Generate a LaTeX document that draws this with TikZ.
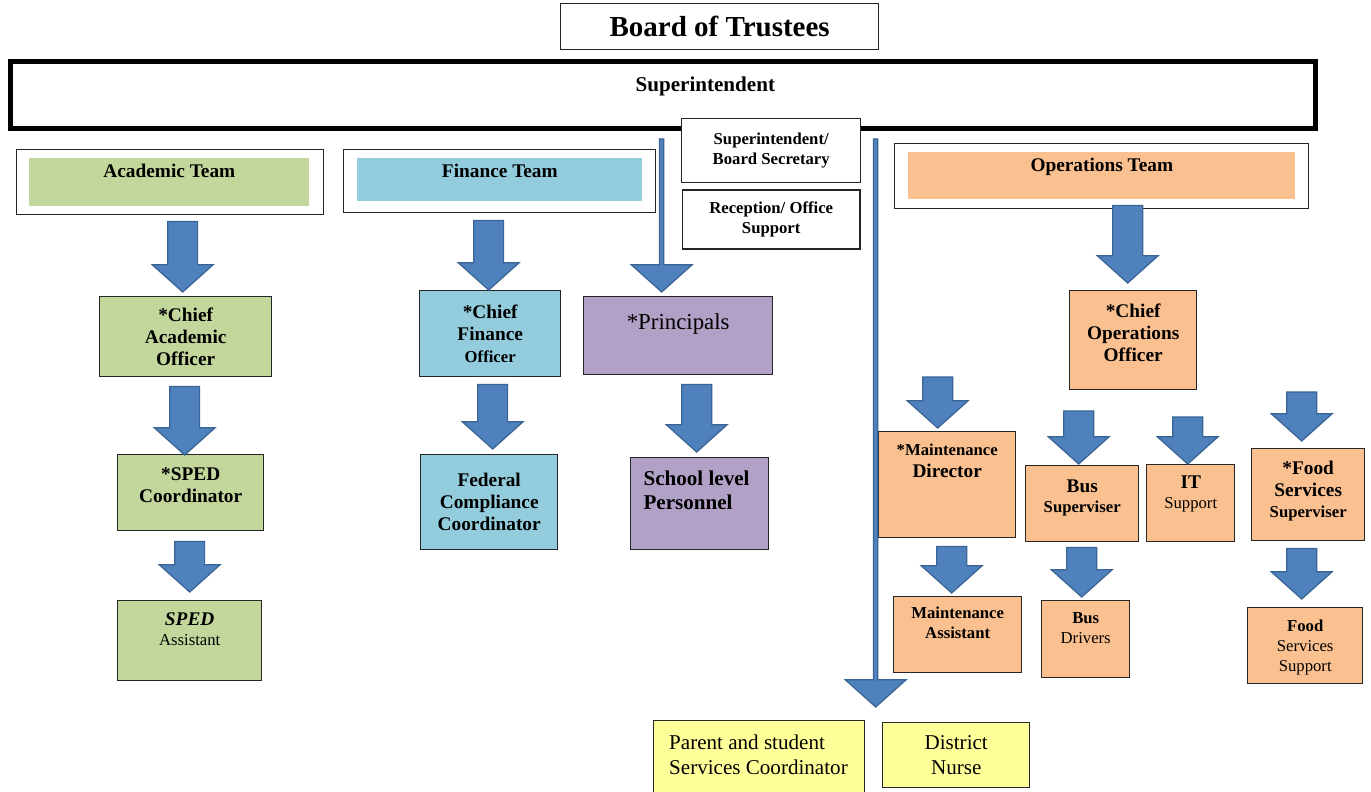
\documentclass[tikz,border=0pt]{standalone}
\usepackage{fontspec}
\setmainfont{Liberation Serif}
\usepackage{xcolor}
\usepackage{tikz}
\usetikzlibrary{positioning,calc}
\definecolor{acgreen}{HTML}{C3D69B}
\definecolor{fiblue}{HTML}{93CDDD}
\definecolor{prpurple}{HTML}{B2A1C7}
\definecolor{oporange}{HTML}{FAC090}
\definecolor{psyellow}{HTML}{FFFF99}
\definecolor{arrowblue}{HTML}{4F81BD}
\definecolor{arrowedge}{HTML}{3A6494}
\newcommand{\bfbig}{\fontsize{12}{13.8}\selectfont\bfseries\upshape}
\newcommand{\bfmid}{\fontsize{11}{12.5}\selectfont\bfseries\upshape}
\newcommand{\bfsmall}{\fontsize{9.5}{11.4}\selectfont\bfseries\upshape}
\newcommand{\rmsmall}{\fontsize{9.5}{11.4}\selectfont\mdseries\upshape}
\newcommand{\rmbig}{\fontsize{12}{14}\selectfont\mdseries\upshape}
% fat down arrow: #2 gives the top of the shaft, #3 the tip
\newcommand{\blockdown}[3][8.5pt]{%
  \draw[blockarrow] let \p1=(#2), \p2=(#3) in
    (\x2-#1,\y1) -- (\x2+#1,\y1) -- (\x2+#1,\y2+15.5pt) -- (\x2+17.3pt,\y2+15.5pt)
    -- (\x2,\y2) -- (\x2-17.3pt,\y2+15.5pt) -- (\x2-#1,\y2+15.5pt) -- cycle;}
\tikzset{
  plainbox/.style={rectangle,draw=black!85,line width=0.8pt,fill=white,anchor=north west,inner sep=2pt,align=center},
  acbox/.style={plainbox,fill=acgreen},
  fibox/.style={plainbox,fill=fiblue},
  prbox/.style={plainbox,fill=prpurple},
  opbox/.style={plainbox,fill=oporange},
  psbox/.style={plainbox,fill=psyellow},
  teambar/.style={rectangle,draw=none,anchor=north west,inner sep=0pt},
  intop/.style n args={3}{label={[anchor=north,align=center,inner sep=0pt,yshift=-#1,font=#2]north:{#3}}},
  blockarrow/.style={fill=arrowblue,draw=arrowedge,line width=0.7pt,line join=miter}
}
\begin{document}
\begin{tikzpicture}[x=0.02cm,y=-0.02cm]
  \fill[white] (0,0) rectangle (1371,791);
  \useasboundingbox (0,0) rectangle (1371,791);

  % board and superintendent
  \node[plainbox,minimum width=6.36cm,minimum height=0.92cm,font=\fontsize{16.5}{18}\selectfont\bfseries] (board) at (560,3) {Board of Trustees};
  \node[plainbox,draw=black,line width=2.8pt,minimum width=26.1cm,minimum height=1.34cm,
    label={[anchor=north,inner sep=0pt,xshift=0.85cm,yshift=-10pt,font=\bfbig]north:Superintendent}] (super) at (8,59) {};
  \node[plainbox,minimum width=3.58cm,minimum height=1.28cm,font=\bfsmall] (sec) at (681,118) {Superintendent/\\Board Secretary};
  \node[plainbox,below=0.12cm of sec,minimum width=3.56cm,minimum height=1.18cm,font=\bfsmall] (recep) {Reception/ Office\\Support};

  % academic team
  \node[plainbox,minimum width=6.14cm,minimum height=1.3cm] (acteam) at (16,149) {};
  \node[teambar,fill=acgreen,minimum width=5.6cm,minimum height=0.96cm,intop={3pt}{\bfmid}{Academic Team}] (acbar) at (29,158) {};
  \node[acbox,minimum width=3.44cm,minimum height=1.6cm,font=\bfmid] (cao) at (99,296) {*Chief\\Academic\\Officer};
  \node[acbox,minimum width=2.92cm,minimum height=1.52cm,intop={7.5pt}{\bfmid}{*SPED\\Coordinator}] (spedc) at (117,454) {};
  \node[acbox,minimum width=2.88cm,minimum height=1.6cm,intop={7pt}{\rmsmall}{\bfmid\itshape SPED\\\rmsmall Assistant}] (speda) at (117,600) {};

  % finance team
  \node[plainbox,minimum width=6.24cm,minimum height=1.26cm] (fiteam) at (343,149) {};
  \node[teambar,fill=fiblue,minimum width=5.7cm,minimum height=0.86cm,intop={3pt}{\bfmid}{Finance Team}] (fibar) at (357,158) {};
  \node[fibox,minimum width=2.82cm,minimum height=1.72cm,font=\bfmid] (cfo) at (419,290) {*Chief\\Finance\\\bfsmall Officer};
  \node[fibox,minimum width=2.74cm,minimum height=1.9cm,font=\bfmid] (fcc) at (420,454) {Federal\\Compliance\\Coordinator};

  % principals
  \node[prbox,minimum width=3.78cm,minimum height=1.56cm,intop={10pt}{\fontsize{13}{15}\selectfont}{*Principals}] (prin) at (583,296) {};
  \node[prbox,minimum width=2.76cm,minimum height=1.84cm,
    label={[anchor=north west,align=left,inner sep=0pt,xshift=7.5pt,yshift=-7.8pt,font=\bfbig]north west:{School level\\Personnel}}] (school) at (630,457) {};

  % operations team
  \node[plainbox,minimum width=8.28cm,minimum height=1.3cm] (opteam) at (894,143) {};
  \node[teambar,fill=oporange,minimum width=7.74cm,minimum height=0.94cm,intop={3pt}{\bfmid}{Operations Team}] (opbar) at (908,152) {};
  \node[opbox,minimum width=2.54cm,minimum height=1.98cm,intop={7.5pt}{\bfmid}{*Chief\\Operations\\Officer}] (coo) at (1069,290) {};
  \node[opbox,minimum width=2.74cm,minimum height=2.12cm,intop={7.3pt}{\bfmid}{\bfsmall *Maintenance\\\bfmid Director}] (maintd) at (878,431) {};
  \node[opbox,minimum width=2.56cm,minimum height=1.52cm,intop={6.2pt}{\bfsmall}{Maintenance\\Assistant}] (mainta) at (893,596) {};
  \node[opbox,minimum width=2.26cm,minimum height=1.52cm,intop={8pt}{\bfsmall}{\bfmid Bus\\\bfsmall Superviser}] (bussup) at (1025,465) {};
  \node[opbox,minimum width=1.76cm,minimum height=1.54cm,intop={6.7pt}{\rmsmall}{\bfsmall Bus\\\rmsmall Drivers}] (busdr) at (1041,600) {};
  \node[opbox,minimum width=1.76cm,minimum height=1.54cm,intop={6.6pt}{\rmsmall}{\bfmid IT\\\rmsmall Support}] (it) at (1146,464) {};
  \node[opbox,minimum width=2.26cm,minimum height=1.84cm,intop={7pt}{\bfmid}{*Food\\Services\\\bfsmall Superviser}] (foodsup) at (1251,448) {};
  \node[opbox,minimum width=2.3cm,minimum height=1.52cm,intop={7pt}{\rmsmall}{\bfsmall Food\\\rmsmall Services\\\rmsmall Support}] (foodsupp) at (1247,607) {};

  % parent services and nurse
  \node[psbox,minimum width=4.22cm,minimum height=1.5cm,
    label={[anchor=north west,align=left,inner sep=0pt,xshift=9pt,yshift=-8.3pt,font=\rmbig]north west:{Parent and student\\Services Coordinator}}] (parent) at (653,720) {};
  \node[psbox,minimum width=2.94cm,minimum height=1.3cm,font=\rmbig] (nurse) at (882,722) {District\\Nurse};

  % arrows
  \blockdown{$(acteam.south -| cao.north)+(0,6)$}{$(cao.north)+(-3,-4)$}
  \blockdown{$(cao.south)+(0,9)$}{$(spedc.north)+(-6,1)$}
  \blockdown{$(spedc.south)+(0,10)$}{$(speda.north)+(0,-8)$}
  \blockdown{$(fiteam.south)+(0,7)$}{$(cfo.north)+(-1.5,0)$}
  \blockdown{$(cfo.south)+(0,7)$}{$(fcc.north)+(3.5,-5)$}
  \blockdown{$(prin.south)+(0,9)$}{$(school.north)+(-3,-5)$}
  \blockdown{$(opteam.south)+(0,-4)$}{$(coo.north)+(-5.5,-7)$}
  \blockdown{$(maintd.north)+(0,-54)$}{$(maintd.north)+(-9.5,-3)$}
  \blockdown{$(maintd.south)+(0,8)$}{$(mainta.north)+(-6,-3)$}
  \blockdown{$(bussup.north)+(0,-54)$}{$(bussup.north)+(-3.5,-1)$}
  \blockdown{$(bussup.south)+(0,5)$}{$(busdr.north)+(-4,-3)$}
  \blockdown{$(it.north)+(0,-47)$}{$(it.north)+(-3,0)$}
  \blockdown{$(foodsup.north)+(0,-56)$}{$(foodsup.north)+(-6.5,-7)$}
  \blockdown{$(foodsup.south)+(0,7)$}{$(foodsupp.north)+(-3.5,-8)$}
  \blockdown[1.2pt]{$(super.south)+(0,8)$}{$(prin.north)+(-16.5,-4)$}
  \blockdown[1.2pt]{$(super.south)+(0,8)$}{$(parent.north east)!0.5!(nurse.north west)+(2,-14)$}
\end{tikzpicture}
\end{document}
